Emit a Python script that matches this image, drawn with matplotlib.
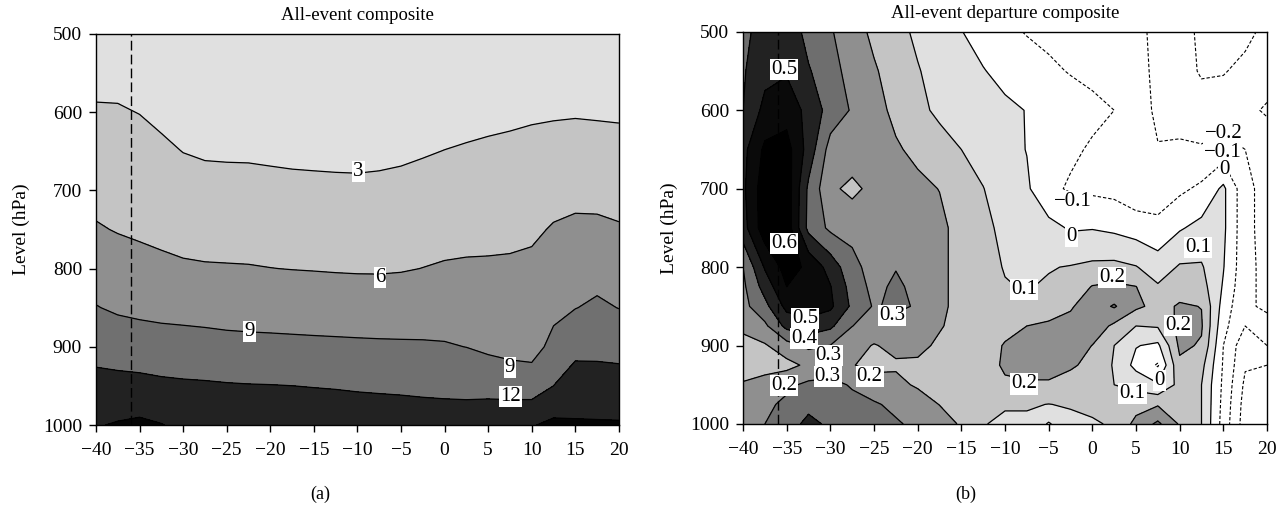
import matplotlib
matplotlib.use("Agg")
import matplotlib.pyplot as plt
import numpy as np

plt.rcParams["font.family"] = ["Liberation Serif", "DejaVu Serif"]
plt.rcParams["axes.unicode_minus"] = True

# grid columns (x axis) shared by both panels
x_grid = [-40, -37.5, -35, -32.5, -30, -27.5, -25, -22.5, -20, -17.5, -15, -12.5, -10,
          -7.5, -5, -2.5, 0, 2.5, 5, 7.5, 10, 12.5, 15, 17.5, 20]

# panel (a): all-event composite, rows at these levels (hPa)
p_a = [500, 550, 600, 650, 700, 750, 800, 850, 900, 950, 1000]
composite = [
    [1.32, 1.42, 1.17, 0.56, -0.28, -0.68, -0.76, -0.78, -0.9, -1.0, -1.04, -1.05, -1.05, -0.87, -0.67, -0.41, -0.08, 0.2, 0.46, 0.64, 0.77, 0.42, 0.32, 0.25, 0.31],
    [2.28, 2.31, 2.06, 1.52, 0.8, 0.46, 0.39, 0.37, 0.25, 0.14, 0.11, 0.09, 0.09, 0.24, 0.41, 0.67, 0.96, 1.21, 1.43, 1.6, 1.73, 1.58, 1.56, 1.49, 1.49],
    [3.25, 3.2, 2.95, 2.48, 1.88, 1.59, 1.53, 1.51, 1.41, 1.3, 1.27, 1.24, 1.23, 1.34, 1.5, 1.74, 2.0, 2.22, 2.4, 2.54, 2.69, 2.74, 2.8, 2.73, 2.67],
    [4.22, 4.08, 3.83, 3.44, 2.96, 2.73, 2.68, 2.66, 2.56, 2.47, 2.42, 2.38, 2.36, 2.45, 2.59, 2.81, 3.04, 3.22, 3.37, 3.49, 3.65, 3.91, 4.04, 3.97, 3.85],
    [5.19, 4.97, 4.72, 4.40, 4.04, 3.86, 3.82, 3.8, 3.72, 3.63, 3.58, 3.53, 3.5, 3.55, 3.67, 3.88, 4.08, 4.23, 4.34, 4.44, 4.61, 5.07, 5.28, 5.21, 5.03],
    [6.23, 5.86, 5.61, 5.37, 5.12, 5.0, 4.97, 4.95, 4.87, 4.79, 4.73, 4.67, 4.64, 4.66, 4.76, 4.95, 5.12, 5.23, 5.31, 5.39, 5.57, 6.21, 6.51, 6.51, 6.24],
    [7.66, 7.2, 6.86, 6.56, 6.32, 6.21, 6.17, 6.13, 6.03, 5.95, 5.89, 5.82, 5.77, 5.76, 5.84, 6.03, 6.23, 6.32, 6.33, 6.38, 6.55, 7.28, 7.72, 7.94, 7.59],
    [9.11, 8.63, 8.39, 8.21, 8.08, 7.98, 7.88, 7.82, 7.76, 7.69, 7.62, 7.55, 7.5, 7.46, 7.52, 7.63, 7.69, 7.64, 7.52, 7.43, 7.4, 8.35, 8.93, 9.47, 8.94],
    [11.01, 10.63, 10.38, 10.2, 10.13, 10.0, 9.82, 9.73, 9.68, 9.62, 9.56, 9.51, 9.45, 9.4, 9.35, 9.3, 9.21, 8.97, 8.5, 8.2, 8.0, 9.75, 11.24, 11.27, 11.09],
    [12.91, 12.89, 12.82, 12.56, 12.4, 12.32, 12.2, 12.12, 12.08, 12.01, 11.91, 11.82, 11.69, 11.6, 11.52, 11.41, 11.33, 11.26, 11.0, 10.6, 10.5, 12.01, 13.34, 13.23, 13.19],
    [14.81, 15.23, 15.54, 15.1, 14.4, 14.32, 14.2, 14.12, 14.08, 14.0, 13.92, 13.84, 13.72, 13.64, 13.56, 13.44, 13.36, 13.36, 14.0, 14.6, 14.8, 15.66, 15.32, 15.29, 15.25],
]
levels_a = [-5, 3, 6, 9, 12, 15, 25]
colors_a = ["#e0e0e0", "#c4c4c4", "#8f8f8f", "#707070", "#222222", "#050505"]
labels_a = [("3", -9.9, 676), ("6", -7.4, 811), ("9", -22.4, 880),
            ("9", 7.5, 926), ("12", 7.6, 964)]

# panel (b): all-event departure composite
p_b = [500, 550, 600, 650, 700, 750, 800, 825, 850, 875, 900, 925, 950, 975, 1000]
departure = [
    [0.37, 0.45, 0.48, 0.36, 0.31, 0.24, 0.18, 0.125, 0.085, 0.04, 0.003, -0.04, -0.08, -0.105, -0.12, -0.14, -0.15, -0.16, -0.18, -0.22, -0.26, -0.32, -0.34, -0.32, -0.28],
    [0.39, 0.47, 0.49, 0.41, 0.33, 0.27, 0.21, 0.16, 0.105, 0.07, 0.04, 0.005, -0.03, -0.06, -0.085, -0.105, -0.12, -0.14, -0.17, -0.22, -0.26, -0.31, -0.305, -0.28, -0.26],
    [0.40, 0.53, 0.56, 0.47, 0.36, 0.29, 0.23, 0.18, 0.125, 0.08, 0.06, 0.04, 0.02, -0.003, -0.03, -0.06, -0.08, -0.1, -0.15, -0.22, -0.24, -0.26, -0.26, -0.28, -0.31],
    [0.47, 0.62, 0.64, 0.46, 0.26, 0.26, 0.23, 0.21, 0.18, 0.14, 0.1, 0.07, 0.035, -0.003, -0.05, -0.085, -0.11, -0.14, -0.17, -0.195, -0.185, -0.19, -0.16, -0.2, -0.25],
    [0.48, 0.66, 0.66, 0.38, 0.22, 0.175, 0.23, 0.23, 0.22, 0.198, 0.14, 0.102, 0.06, 0.015, -0.08, -0.11, -0.12, -0.13, -0.17, -0.16, -0.12, -0.08, 0.02, -0.17, -0.24],
    [0.46, 0.66, 0.66, 0.37, 0.28, 0.27, 0.26, 0.24, 0.23, 0.22, 0.17, 0.12, 0.08, 0.05, 0.03, -0.01, -0.005, -0.02, -0.045, -0.07, -0.01, 0.03, 0.02, -0.17, -0.24],
    [0.30, 0.51, 0.64, 0.58, 0.46, 0.33, 0.26, 0.295, 0.25, 0.22, 0.17, 0.13, 0.095, 0.08, 0.095, 0.105, 0.12, 0.125, 0.105, 0.05, 0.11, 0.11, 0.005, -0.17, -0.23],
    [0.28, 0.44, 0.6, 0.58, 0.505, 0.36, 0.27, 0.32, 0.27, 0.22, 0.17, 0.14, 0.105, 0.095, 0.11, 0.14, 0.205, 0.22, 0.202, 0.11, 0.16, 0.14, -0.01, -0.18, -0.22],
    [0.27, 0.37, 0.53, 0.55, 0.52, 0.38, 0.29, 0.32, 0.29, 0.22, 0.17, 0.14, 0.13, 0.14, 0.17, 0.19, 0.25, 0.31, 0.22, 0.17, 0.21, 0.198, -0.04, -0.19, -0.21],
    [0.22, 0.28, 0.43, 0.46, 0.42, 0.302, 0.25, 0.26, 0.26, 0.21, 0.16, 0.14, 0.16, 0.2, 0.21, 0.23, 0.26, 0.18, 0.1, 0.11, 0.23, 0.21, -0.07, -0.2, -0.18],
    [0.17, 0.19, 0.26, 0.32, 0.298, 0.23, 0.195, 0.22, 0.23, 0.18, 0.15, 0.14, 0.21, 0.24, 0.25, 0.25, 0.198, 0.1, 0.005, -0.02, 0.22, 0.19, -0.1, -0.27, -0.2],
    [0.15, 0.16, 0.17, 0.22, 0.24, 0.205, 0.17, 0.19, 0.18, 0.16, 0.15, 0.14, 0.22, 0.23, 0.23, 0.21, 0.18, 0.09, -0.03, -0.11, 0.18, 0.13, -0.11, -0.29, -0.3],
    [0.21, 0.24, 0.28, 0.32, 0.33, 0.29, 0.25, 0.22, 0.19, 0.17, 0.15, 0.13, 0.18, 0.19, 0.19, 0.17, 0.16, 0.1, 0.07, 0.01, 0.13, 0.1, -0.12, -0.32, -0.36],
    [0.24, 0.28, 0.32, 0.37, 0.36, 0.33, 0.31, 0.28, 0.24, 0.198, 0.16, 0.12, 0.11, 0.11, 0.098, 0.11, 0.12, 0.12, 0.16, 0.19, 0.15, 0.1, -0.13, -0.34, -0.4],
    [0.26, 0.3, 0.35, 0.43, 0.38, 0.35, 0.33, 0.31, 0.28, 0.24, 0.19, 0.105, 0.08, 0.08, -0.01, 0.07, 0.09, 0.11, 0.23, 0.32, 0.19, 0.1, -0.14, -0.35, -0.42],
]
levels_b = [-1, 0, 0.1, 0.2, 0.3, 0.4, 0.5, 0.6, 1]
colors_b = ["white", "#e0e0e0", "#c4c4c4", "#8f8f8f", "#6e6e6e", "#222222", "#0a0a0a", "#000000"]
labels_b = [("0.5", -35.3, 548), ("0.6", -35.3, 770), ("0.5", -32.9, 866),
            ("0.4", -33.0, 891), ("0.3", -30.2, 913), ("0.3", -30.3, 940),
            ("0.2", -25.5, 940), ("0.2", -35.3, 951), ("0.3", -22.9, 862),
            ("0.1", -7.8, 828), ("0.2", 2.3, 813), ("0.2", -7.8, 949),
            ("0.2", 9.8, 874), ("0.1", 4.6, 961), ("0", 7.7, 944),
            ("0.1", 12.1, 775), ("0", -2.4, 761), ("\u22120.1", -2.2, 716),
            ("\u22120.2", 15.1, 629), ("\u22120.1", 14.9, 654), ("0", 15.1, 676)]

event_x = -36  # dashed reference line


def style_axes(ax, title):
    ax.set_xlim(-40, 20)
    ax.set_ylim(1000, 500)
    ax.set_xticks(np.arange(-40, 21, 5))
    ax.set_yticks(np.arange(500, 1001, 100))
    ax.tick_params(direction="out", length=5, width=1, labelsize=14, pad=5,
                   top=False, right=False)
    ax.tick_params(axis="x", pad=7)
    ax.set_ylabel("Level (hPa)", fontsize=14, labelpad=9)
    ax.set_title(title, fontsize=13.5, pad=10)
    for s in ax.spines.values():
        s.set_linewidth(1)
    ax.axvline(event_x, color="black", lw=1, dashes=(7, 3))


def add_labels(ax, labels):
    for txt, x, p in labels:
        ax.text(x, p, txt, ha="center", va="center", fontsize=15, zorder=5,
                bbox=dict(facecolor="white", edgecolor="none", pad=0.8))


fig = plt.figure(figsize=(12.88, 5.18), dpi=100)
ax_a = fig.add_axes([0.0745, 0.1795, 0.406, 0.755])
ax_b = fig.add_axes([0.5769, 0.1815, 0.4068, 0.757])

Za = np.array(composite)
ax_a.contourf(x_grid, p_a, Za, levels=levels_a, colors=colors_a)
ax_a.contour(x_grid, p_a, Za, levels=[3, 6, 9, 12, 15], colors="black", linewidths=0.9)
style_axes(ax_a, "All-event composite")
add_labels(ax_a, labels_a)

Zb = np.array(departure)
ax_b.contourf(x_grid, p_b, Zb, levels=levels_b, colors=colors_b)
ax_b.contour(x_grid, p_b, Zb, levels=[0, 0.1, 0.2, 0.3, 0.4, 0.5, 0.6],
             colors="black", linewidths=0.9, linestyles="solid")
ax_b.contour(x_grid, p_b, Zb, levels=[-0.3, -0.2, -0.1], colors="black",
             linewidths=0.8, linestyles=[(0, (3, 1.8))])
style_axes(ax_b, "All-event departure composite")
add_labels(ax_b, labels_b)

fig.text(320 / 1288, 1 - 494 / 518, "(a)", ha="center", va="center", fontsize=13)
fig.text(966 / 1288, 1 - 494 / 518, "(b)", ha="center", va="center", fontsize=13)

fig.savefig("out.png", dpi=100)
